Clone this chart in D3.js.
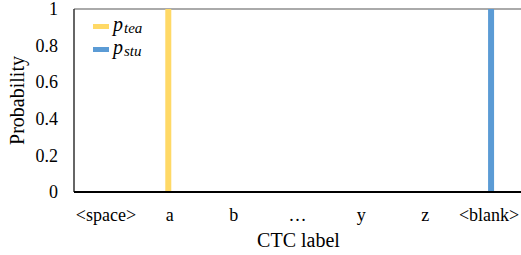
<!DOCTYPE html>
<html><head><meta charset="utf-8">
<script src="https://cdn.jsdelivr.net/npm/d3@7"></script>
<style>body{margin:0;background:#fff}svg{display:block}</style>
</head><body>
<script>
const categories = ["<space>", "a", "b", "…", "y", "z", "<blank>"];
const pTea = [0, 1, 0, 0, 0, 0, 0];
const pStu = [0, 0, 0, 0, 0, 0, 1];
const yTicks = [0, 0.2, 0.4, 0.6, 0.8, 1];
const seriesNames = ["tea", "stu"];

const W = 521, H = 255;
const m = {left: 74, right: 0, top: 9, bottom: 63};
const svg = d3.select("body").append("svg").attr("width", W).attr("height", H);
const x = d3.scaleBand().domain(categories).range([m.left, W - m.right]);
const y = d3.scaleLinear().domain([0, 1]).range([H - m.bottom, m.top]);
const colors = ["#FFD966", "#5B9BD5"];
const font = "\"Liberation Serif\", \"Times New Roman\", serif";

// frame
svg.append("line").attr("x1", m.left).attr("x2", W).attr("y1", y(1)).attr("y2", y(1))
  .attr("stroke", "#aaa").attr("stroke-width", 2);
svg.append("line").attr("x1", m.left).attr("x2", m.left).attr("y1", y(1)).attr("y2", y(0))
  .attr("stroke", "#333").attr("stroke-width", 1.5);

// bars
const bw = 6;
const offsets = [-4.5, -1];
[pTea, pStu].forEach((vals, si) => {
  svg.append("g").selectAll("rect").data(vals.map((v, i) => ({c: categories[i], v})))
    .join("rect")
    .attr("x", d => x(d.c) + x.bandwidth() / 2 + offsets[si])
    .attr("width", bw)
    .attr("y", d => y(d.v))
    .attr("height", d => y(0) - y(d.v))
    .attr("fill", colors[si]);
});

// x axis
svg.append("line").attr("x1", m.left).attr("x2", W).attr("y1", y(0)).attr("y2", y(0))
  .attr("stroke", "#000").attr("stroke-width", 2);
const xAxis = d3.axisBottom(x).tickSize(0).tickPadding(0);
const gx = svg.append("g").attr("transform", `translate(0,${y(0)})`).call(xAxis);
gx.attr("font-family", null).attr("font-size", null);
gx.select(".domain").remove();
gx.selectAll("text").style("font-family", font).style("font-size", "18px").attr("fill", "#000")
  .attr("dy", null).attr("y", 29);

// y axis
const yAxis = d3.axisLeft(y).tickValues(yTicks).tickSize(0).tickPadding(0)
  .tickFormat(d => String(d));
const gy = svg.append("g").attr("transform", `translate(${m.left - 16},0)`).call(yAxis);
gy.attr("font-family", null).attr("font-size", null);
gy.select(".domain").remove();
gy.selectAll("text").style("font-family", font).style("font-size", "18px").attr("fill", "#000");

// titles
svg.append("text").attr("x", (m.left + W) / 2 + 1).attr("y", 247).attr("text-anchor", "middle")
  .style("font-family", font).style("font-size", "20px").text("CTC label");
svg.append("text").attr("transform", `translate(24,${(y(0) + y(1)) / 2}) rotate(-90)`)
  .attr("text-anchor", "middle").style("font-family", font).style("font-size", "20px").text("Probability");

// legend
const lg = svg.append("g");
seriesNames.forEach((s, i) => {
  const ly = 27 + i * 23;
  lg.append("rect").attr("x", 93).attr("y", ly - 3).attr("width", 16).attr("height", 5).attr("fill", colors[i]);
  const t = lg.append("text").attr("x", 113).attr("y", ly + 4)
    .style("font-family", font).style("font-style", "italic").style("font-size", "20px");
  t.append("tspan").text("p");
  t.append("tspan").style("font-size", "15px").attr("dx", 1).attr("dy", 2).text(s);
});
</script>
</body></html>
